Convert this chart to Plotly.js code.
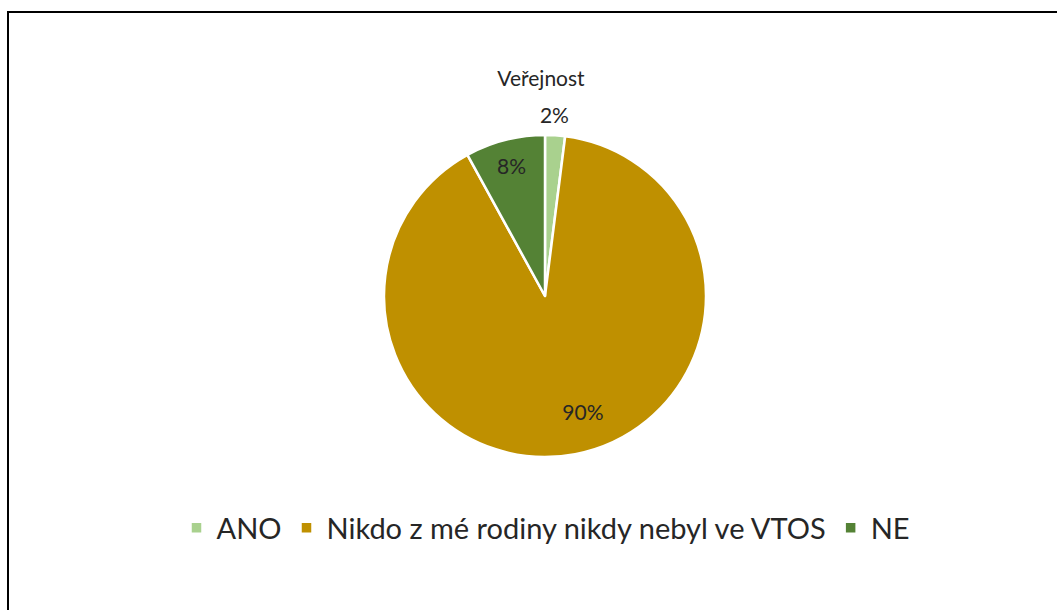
<!DOCTYPE html>
<html>
<head>
<meta charset="utf-8">
<script src="https://cdn.plot.ly/plotly-3.0.1.min.js"></script>
<style>
html,body{margin:0;padding:0;background:#fff;}
#chart{width:1057px;height:610px;}
</style>
</head>
<body>
<div id="chart"></div>
<script>
const categories = ['ANO', 'Nikdo z mé rodiny nikdy nebyl ve VTOS', 'NE'];
const values = [2, 90, 8];
const sliceColors = ['#a9d18e', '#bf9000', '#548235'];
const chartTitle = 'Veřejnost';

const W = 1057, H = 610;
const FONT = 'Lato, "Open Sans", sans-serif';
const TXT = '#262626';
const cx = 545, cy = 296, r = 161;
const CLEAR = ['rgba(0,0,0,0)', 'rgba(0,0,0,0)', 'rgba(0,0,0,0)'];

function dom(x, y, rad) {
  return {x: [(x - rad) / W, (x + rad) / W], y: [(H - y - rad) / H, (H - y + rad) / H]};
}

const base = {
  type: 'pie', labels: categories, values: values,
  sort: false, direction: 'clockwise',
  texttemplate: '%{percent:.0%}',
  insidetextorientation: 'horizontal',
  textfont: {family: FONT, size: 21, color: TXT},
  hoverinfo: 'none'
};

// visible pie
const pieMain = Object.assign({}, base, {
  rotation: 0,
  marker: {colors: sliceColors, line: {color: '#ffffff', width: 2.5}},
  textposition: 'none',
  domain: dom(cx, cy, r),
  showlegend: true
});

// label carrier for the NE slice
const pieLbl8 = Object.assign({}, base, {
  rotation: 0,
  hole: 0.67,
  marker: {colors: CLEAR, line: {width: 0}},
  textposition: ['none', 'none', 'inside'],
  domain: dom(cx, cy, r),
  showlegend: false
});

// label carrier for the large slice
const pieLbl90 = Object.assign({}, base, {
  rotation: -7.3,
  hole: 0.516,
  marker: {colors: CLEAR, line: {width: 0}},
  textposition: ['none', 'inside', 'none'],
  domain: dom(cx, cy, r),
  showlegend: false
});

// label carrier for the small slice (outside)
const pieLbl2 = Object.assign({}, base, {
  rotation: 0,
  marker: {colors: CLEAR, line: {width: 0}},
  textposition: ['outside', 'none', 'none'],
  domain: dom(523, cy, 169.5),
  showlegend: false
});

const layout = {
  width: W, height: H,
  margin: {l: 0, r: 0, t: 0, b: 0},
  paper_bgcolor: '#ffffff',
  font: {family: FONT, color: TXT},
  title: {
    text: chartTitle,
    font: {family: FONT, size: 21, color: TXT},
    x: 541 / W, xanchor: 'center', xref: 'paper',
    y: 1 - 79 / H, yanchor: 'middle', yref: 'container'
  },
  legend: {
    orientation: 'h',
    x: 546 / W, xanchor: 'center',
    y: 1 - 528 / H, yanchor: 'middle',
    font: {family: FONT, size: 29, color: TXT},
    itemwidth: 30,
    traceorder: 'normal'
  },
  shapes: [
    {type: 'line', xref: 'paper', yref: 'paper', x0: 7 / W, x1: 1, y0: 1 - 12 / H, y1: 1 - 12 / H, line: {color: '#000', width: 2}},
    {type: 'line', xref: 'paper', yref: 'paper', x0: 8 / W, x1: 8 / W, y0: 0, y1: 1 - 11 / H, line: {color: '#000', width: 2}}
  ]
};

Plotly.newPlot('chart', [pieMain, pieLbl8, pieLbl90, pieLbl2], layout, {displayModeBar: false, staticPlot: true});
</script>
</body>
</html>
